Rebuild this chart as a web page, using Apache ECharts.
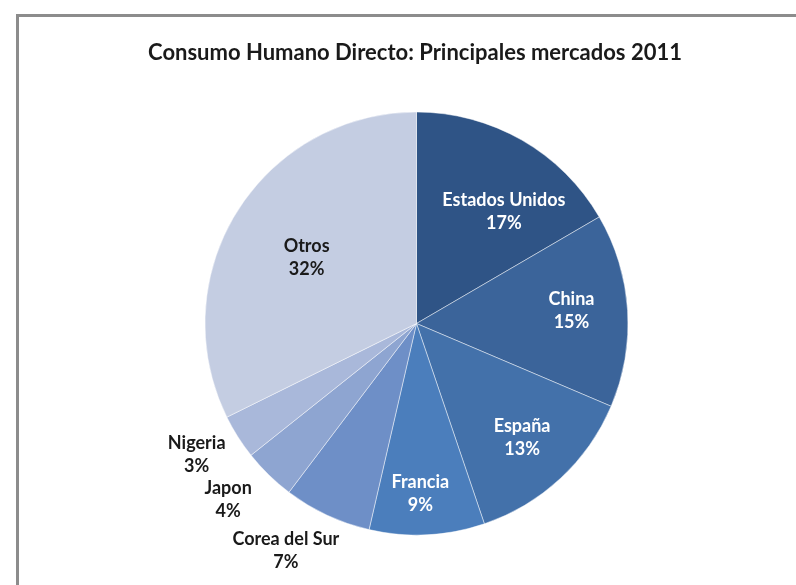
<!DOCTYPE html>
<html>
<head>
<meta charset="utf-8">
<script src="https://cdn.jsdelivr.net/npm/echarts@6/dist/echarts.min.js"></script>
<style>
  html, body { margin: 0; padding: 0; overflow: hidden; background: #fff; }
  #frame {
    position: absolute; left: 16px; top: 14px;
    width: 820px; height: 620px;
    border: 3px solid #8c8c8c;
    box-sizing: border-box;
  }
  #main { position: absolute; left: 0; top: 0; width: 796px; height: 585px; }
</style>
</head>
<body>
<div id="frame"></div>
<div id="main"></div>
<script>
var titleText = 'Consumo Humano Directo: Principales mercados 2011';
var markets = ['Estados Unidos', 'China', 'España', 'Francia', 'Corea del Sur', 'Japon', 'Nigeria', 'Otros'];
var shares = [16.6, 14.8, 13.4, 8.8, 6.7, 4.0, 3.4, 32.3];
var sliceColors = ['#2f5486', '#3b649a', '#4371aa', '#4b7ebc', '#6e8fc7', '#8ea5d1', '#a9b8da', '#c4cde2'];

// label rings (fraction of radius) + small nudges, like excel best fit
var labelGroups = [
  { names: ['Estados Unidos', 'China', 'España', 'Francia', 'Otros'], at: 0.72, color: '#fff' },
  { names: ['Nigeria', 'Japon', 'Corea del Sur'], at: 1.2, color: '#1a1a1a' }
];
var labelNudge = {
  'Estados Unidos': [10, 23],
  'China': [0, -3],
  'Francia': [-4, 15],
  'Otros': [22, 16],
  'Nigeria': [-3, -6],
  'Japon': [-9, -8],
  'Corea del Sur': [-22, -6]
};
var darkText = ['Otros'];

var cx = 416.5, cy = 323.5, R = 211.5;
var font = 'Lato, "Open Sans", sans-serif';

var myChart = echarts.init(document.getElementById('main'));

var series = [{
  type: 'pie',
  center: [cx, cy],
  radius: [0, R],
  startAngle: 90,
  clockwise: true,
  animation: false,
  silent: true,
  label: { show: false },
  labelLine: { show: false },
  itemStyle: { borderColor: 'rgba(255,255,255,0.45)', borderWidth: 1 },
  data: markets.map(function (m, i) {
    return { name: m, value: shares[i], itemStyle: { color: sliceColors[i] } };
  })
}];

labelGroups.forEach(function (g) {
  series.push({
    type: 'pie',
    center: [cx, cy],
    radius: [(g.at - 0.15) * R, (g.at + 0.15) * R],
    startAngle: 90,
    clockwise: true,
    animation: false,
    silent: true,
    percentPrecision: 0,
    avoidLabelOverlap: false,
    labelLayout: { hideOverlap: false },
    z: 5,
    itemStyle: { color: 'transparent', borderWidth: 0 },
    labelLine: { show: false },
    label: {
      position: 'inside',
      formatter: '{b}\n{d}%',
      color: g.color,
      fontFamily: font,
      fontWeight: 'bold',
      fontSize: 18,
      lineHeight: 23,
      align: 'center'
    },
    data: markets.map(function (m, i) {
      var lab = { show: g.names.indexOf(m) >= 0, offset: labelNudge[m] || [0, 0] };
      if (darkText.indexOf(m) >= 0) lab.color = '#1a1a1a';
      return { name: m, value: shares[i], label: lab };
    })
  });
});

var option = {
  backgroundColor: 'transparent',
  title: {
    text: titleText,
    left: 415,
    top: 42,
    padding: 0,
    textAlign: 'center',
    textStyle: { fontFamily: font, fontWeight: 'bold', fontSize: 22, color: '#1a1a1a' }
  },
  series: series
};
myChart.setOption(option);
</script>
</body>
</html>
